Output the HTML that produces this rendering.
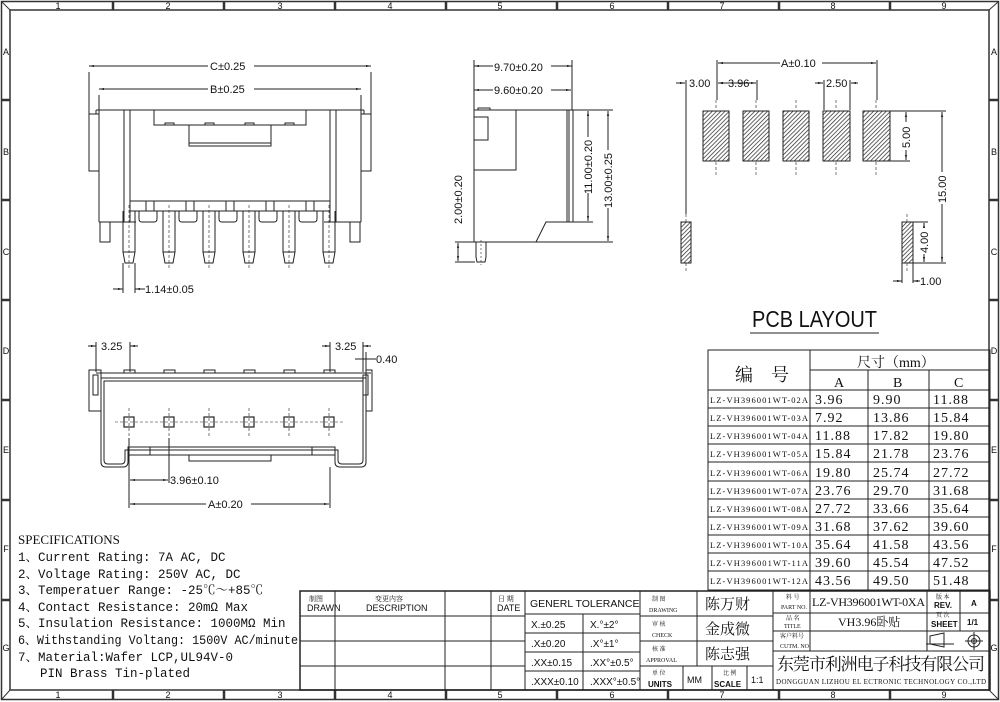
<!DOCTYPE html>
<html><head><meta charset="utf-8"><style>
html,body{margin:0;padding:0;background:#fff;}
svg{display:block;font-family:"Liberation Sans","Noto Sans CJK SC",sans-serif;}
text{fill:#111;}
.s{font-family:"Liberation Serif","Noto Serif CJK SC",serif;}
.m{font-family:"Liberation Mono","Noto Serif CJK SC",monospace;}
</style></head><body>
<svg width="1000" height="702" viewBox="0 0 1000 702" xmlns="http://www.w3.org/2000/svg">
<defs>
<pattern id="h" width="3" height="3" patternUnits="userSpaceOnUse" patternTransform="rotate(45)">
<rect width="3" height="3" fill="#fff"/><line x1="0" y1="0" x2="0" y2="3" stroke="#222" stroke-width="1.4"/></pattern>
<marker id="a" viewBox="0 0 10 10" refX="10" refY="5" markerWidth="5" markerHeight="5" orient="auto-start-reverse"><path d="M0,3 L10,5 L0,7z" fill="#111"/></marker>
</defs>
<g fill="none" stroke="#333" stroke-width="1">
<rect x="1.5" y="1.5" width="997" height="698" stroke-width="1.5"/>
<rect x="10" y="10" width="979" height="680" stroke-width="1.5"/>
<line x1="2" y1="2" x2="10" y2="10"/><line x1="998" y1="2" x2="989" y2="10"/>
<line x1="2" y1="699" x2="10" y2="690"/><line x1="998" y1="699" x2="989" y2="690"/>
<g stroke-width="2.5">
<path d="M113 2v8M224 2v8M335 2v8M446 2v8M557 2v8M668 2v8M779 2v8M890 2v8"/>
<path d="M113 690v9M224 690v9M335 690v9M446 690v9M557 690v9M668 690v9M779 690v9M890 690v9"/>
<path d="M2 100h8M2 200h8M2 300h8M2 400h8M2 500h8M2 600h8"/>
<path d="M989 100h9M989 200h9M989 300h9M989 400h9M989 500h9M989 600h9"/>
</g>
</g>
<g font-size="9" text-anchor="middle">
<text x="58" y="9">1</text><text x="168" y="9">2</text><text x="280" y="9">3</text><text x="390" y="9">4</text><text x="500" y="9">5</text><text x="612" y="9">6</text><text x="722" y="9">7</text><text x="833" y="9">8</text><text x="944" y="9">9</text>
<text x="58" y="698">1</text><text x="168" y="698">2</text><text x="280" y="698">3</text><text x="390" y="698">4</text><text x="500" y="698">5</text><text x="612" y="698">6</text><text x="722" y="698">7</text><text x="833" y="698">8</text><text x="944" y="698">9</text>
<text x="6" y="55">A</text><text x="6" y="155">B</text><text x="6" y="255">C</text><text x="6" y="354">D</text><text x="6" y="453">E</text><text x="6" y="552">F</text><text x="6" y="651">G</text>
<text x="994" y="55">A</text><text x="994" y="155">B</text><text x="994" y="255">C</text><text x="994" y="354">D</text><text x="994" y="453">E</text><text x="994" y="552">F</text><text x="994" y="651">G</text>
</g>

<!-- FRONT VIEW -->
<g fill="none" stroke="#222" stroke-width="1">
<path d="M89 72v43M371 72v43M99 95v16M361 95v16"/>
<line x1="89" y1="66" x2="371" y2="66" marker-start="url(#a)" marker-end="url(#a)"/>
<line x1="99" y1="89" x2="361" y2="89" marker-start="url(#a)" marker-end="url(#a)"/>
<path d="M96 110H364"/>
<rect x="89" y="114" width="10" height="57"/><rect x="361" y="114" width="10" height="57"/>
<path d="M96 110v4h3M364 110v4h-3"/>
<path d="M99 110v112M124 110v112M130 110v112M330 110v112M336 110v112M361 110v112"/>
<path d="M99 222h37M324 222h37"/>
<rect x="100" y="222" width="10" height="20"/><rect x="350" y="222" width="10" height="20"/>
<path d="M154 110v15h152v-15"/><rect x="189" y="125" width="82" height="21"/><path d="M189 143h82"/>
<path d="M165 125v-2h9v2M205 125v-2h9v2M245 125v-2h9v2M285 125v-2h9v2"/>
<path d="M130 201h200M130 211h200"/>
<path d="M146 201v10M154 201v10M186 201v10M194 201v10M226 201v10M234 201v10M266 201v10M274 201v10M306 201v10M314 201v10"/>
<path d="M139 211v8q0 3 3 3h12q3 0 3-3v-8M179 211v8q0 3 3 3h12q3 0 3-3v-8M219 211v8q0 3 3 3h12q3 0 3-3v-8M259 211v8q0 3 3 3h12q3 0 3-3v-8M299 211v8q0 3 3 3h12q3 0 3-3v-8"/>
<g id="pin"><path d="M123 211v41l2 11h8l2-11v-41M123 252h12"/><path d="M129 205v65" stroke-dasharray="3 2" stroke-width="0.6"/></g>
<use href="#pin" x="40"/><use href="#pin" x="80"/><use href="#pin" x="120"/><use href="#pin" x="160"/><use href="#pin" x="200"/>
<path d="M123 263v30M135 263v30"/>
<line x1="113" y1="289" x2="123" y2="289" marker-end="url(#a)"/><line x1="145" y1="289" x2="135" y2="289" marker-end="url(#a)"/>
</g>
<g font-size="11">
<rect x="208" y="59" width="46" height="13" fill="#fff"/><text x="210" y="70">C±0.25</text>
<rect x="208" y="82" width="46" height="13" fill="#fff"/><text x="210" y="93">B±0.25</text>
<text x="145" y="293">1.14±0.05</text>
</g>

<!-- SIDE VIEW -->
<g fill="none" stroke="#222" stroke-width="1">
<path d="M474 60v50M572 60v50"/>
<line x1="474" y1="66" x2="572" y2="66" marker-start="url(#a)" marker-end="url(#a)"/>
<line x1="474" y1="90" x2="571" y2="90" marker-start="url(#a)" marker-end="url(#a)"/>
<path d="M474 110H573V222H546L536 242H474Z"/>
<path d="M567 110v112M569 110v112"/>
<path d="M474 110h42v60h-42M474 117h14v23h-14M478 110v-2h12v2"/>
<path d="M476 242v15l1 5h8l1-5v-15"/><path d="M481 240v25" stroke-dasharray="2 2" stroke-width="0.6"/>
<path d="M573 110h40M573 222h20M455 242h158M455 262h20"/>
<line x1="588" y1="111" x2="588" y2="221" marker-start="url(#a)" marker-end="url(#a)"/>
<line x1="608" y1="111" x2="608" y2="241" marker-start="url(#a)" marker-end="url(#a)"/>
<line x1="458" y1="243" x2="458" y2="261" marker-start="url(#a)" marker-end="url(#a)"/>
</g>
<g font-size="11">
<rect x="493" y="60" width="58" height="13" fill="#fff"/><text x="494" y="71">9.70±0.20</text>
<rect x="493" y="83" width="58" height="13" fill="#fff"/><text x="494" y="94">9.60±0.20</text>
<rect x="581" y="137" width="14" height="56" fill="#fff"/><text transform="translate(592,194) rotate(-90)">11.00±0.20</text>
<rect x="601" y="150" width="14" height="58" fill="#fff"/><text transform="translate(612,208) rotate(-90)">13.00±0.25</text>
<rect x="451" y="168" width="14" height="56" fill="#fff"/><text transform="translate(462,224) rotate(-90)">2.00±0.20</text>
</g>

<!-- PCB LAYOUT -->
<g stroke="#222" stroke-width="1">
<rect x="703" y="111" width="26" height="50" fill="url(#h)"/>
<rect x="743" y="111" width="26" height="50" fill="url(#h)"/>
<rect x="783" y="111" width="26" height="50" fill="url(#h)"/>
<rect x="823" y="111" width="27" height="50" fill="url(#h)"/>
<rect x="863" y="111" width="27" height="50" fill="url(#h)"/>
<rect x="681" y="222" width="10" height="41" fill="url(#h)"/>
<rect x="902" y="222" width="11" height="41" fill="url(#h)"/>
</g>
<g fill="none" stroke="#222" stroke-width="1">
<g stroke-dasharray="3 2" stroke-width="0.6"><path d="M716 100v10M716 162v14M756 100v10M756 162v14M796 100v10M796 162v14M836 100v10M836 162v14M876 100v10M876 162v14M686 214v8M686 263v8M907 214v8M907 263v8"/></g>
<path d="M717 60v40M877 60v40M757 80v20M824 80v30M850 80v30M686 80v134"/>
<line x1="718" y1="63" x2="876" y2="63" marker-start="url(#a)" marker-end="url(#a)"/>
<line x1="676" y1="83" x2="685" y2="83" marker-end="url(#a)"/><line x1="727" y1="83" x2="718" y2="83" marker-end="url(#a)"/>
<line x1="718" y1="83" x2="756" y2="83" marker-start="url(#a)" marker-end="url(#a)"/>
<line x1="815" y1="83" x2="823" y2="83" marker-end="url(#a)"/><line x1="858" y1="83" x2="851" y2="83" marker-end="url(#a)"/>
<path d="M890 111h56M890 161h20M913 222h15M913 263h33M902 263v20M913 263v20"/>
<line x1="906" y1="112" x2="906" y2="160" marker-start="url(#a)" marker-end="url(#a)"/>
<line x1="942" y1="112" x2="942" y2="262" marker-start="url(#a)" marker-end="url(#a)"/>
<line x1="924" y1="223" x2="924" y2="262" marker-start="url(#a)" marker-end="url(#a)"/>
<line x1="893" y1="281" x2="902" y2="281" marker-end="url(#a)"/><line x1="920" y1="281" x2="913" y2="281" marker-end="url(#a)"/>
</g>
<g font-size="11">
<rect x="780" y="57" width="42" height="13" fill="#fff"/><text x="781" y="67">A±0.10</text>
<text x="689" y="87">3.00</text><text x="728" y="87">3.96</text>
<rect x="825" y="77" width="24" height="12" fill="#fff"/><text x="826" y="87">2.50</text>
<rect x="900" y="122" width="12" height="28" fill="#fff"/><text transform="translate(910,148) rotate(-90)">5.00</text>
<rect x="936" y="172" width="12" height="32" fill="#fff"/><text transform="translate(946,203) rotate(-90)">15.00</text>
<rect x="918" y="228" width="12" height="26" fill="#fff"/><text transform="translate(928,253) rotate(-90)">4.00</text>
<text x="920" y="285">1.00</text>
</g>
<text x="752" y="327" font-size="23" textLength="125" lengthAdjust="spacingAndGlyphs">PCB LAYOUT</text>
<line x1="750" y1="333" x2="879" y2="333" stroke="#222" stroke-width="1"/>

<!-- BOTTOM VIEW -->
<g fill="none" stroke="#222" stroke-width="1">
<path d="M96 342v30M130 342v30M330 342v30M363 342v30M366 352v20"/>
<line x1="88" y1="346" x2="96" y2="346" marker-end="url(#a)"/><line x1="138" y1="346" x2="130" y2="346" marker-end="url(#a)"/>
<line x1="322" y1="346" x2="330" y2="346" marker-end="url(#a)"/><line x1="371" y1="346" x2="363" y2="346" marker-end="url(#a)"/>
<path d="M355 359h21"/>
<path d="M96 373H371"/>
<path d="M89 370h12v41h-12zM366 370h6v41h-6z"/>
<rect x="93" y="375" width="5" height="20"/><rect x="363" y="375" width="5" height="20"/>
<path d="M124 373v-3h11v3M164 373v-3h11v3M204 373v-3h11v3M244 373v-3h11v3M284 373v-3h11v3M324 373v-3h11v3"/>
<path d="M101 378H366V462q0 5-5 5H340q-5 0-5-5V447H128V462q0 5-5 5H106q-5 0-5-5Z"/>
<path d="M104 381H363V460q0 4-4 4H342q-4 0-4-4V450H125V460q0 4-4 4H108q-4 0-4-4Z"/>
<path d="M128 455h207M150 447v8M312 447v8"/><rect x="189" y="455" width="82" height="6"/>
<g stroke-dasharray="3 2" stroke-width="0.6"><path d="M115 422h230M129 408v30M169 408v30M209 408v30M249 408v30M289 408v30M329 408v30"/></g>
<g stroke-width="1.2">
<rect x="124" y="417" width="10" height="10"/><rect x="164" y="417" width="10" height="10"/><rect x="204" y="417" width="10" height="10"/><rect x="244" y="417" width="10" height="10"/><rect x="284" y="417" width="10" height="10"/><rect x="324" y="417" width="10" height="10"/>
</g>
<path d="M129 438v70M169 438v45M330 467v41"/>
<line x1="130" y1="480" x2="168" y2="480" marker-start="url(#a)" marker-end="url(#a)"/>
<line x1="130" y1="504" x2="329" y2="504" marker-start="url(#a)" marker-end="url(#a)"/>
</g>
<g font-size="11">
<text x="101" y="350">3.25</text><text x="335" y="350">3.25</text><text x="376" y="363">0.40</text>
<text x="170" y="484">3.96±0.10</text>
<rect x="206" y="497" width="45" height="13" fill="#fff"/><text x="208" y="508">A±0.20</text>
</g>

<!-- SPECIFICATIONS -->
<g class="m" font-size="12.5">
<text x="18" y="544" class="s" font-size="13">SPECIFICATIONS</text>
<text x="18" y="561">1、Current Rating: 7A AC, DC</text>
<text x="18" y="578">2、Voltage Rating: 250V AC, DC</text>
<text x="18" y="594">3、Temperatuer Range: -25℃～+85℃</text>
<text x="18" y="611">4、Contact Resistance: 20mΩ Max</text>
<text x="18" y="627">5、Insulation Resistance: 1000MΩ Min</text>
<text x="18" y="644" textLength="280" lengthAdjust="spacingAndGlyphs">6、Withstanding Voltang: 1500V AC/minute</text>
<text x="18" y="661">7、Material:Wafer LCP,UL94V-0</text>
<text x="40" y="677">PIN Brass Tin-plated</text>
</g>

<!-- TABLE -->
<g fill="none" stroke="#222" stroke-width="1">
<rect x="708" y="350" width="282" height="240"/>
<path d="M810 350v240M810 370h180M708 390h282M868 370v220M929 370v220"/>
<path d="M708 408h282M708 426h282M708 444h282M708 462h282M708 481h282M708 499h282M708 517h282M708 535h282M708 553h282M708 571h282"/>
</g>
<g class="s">
<text x="735" y="381" font-size="18">编　号</text>
<text x="857" y="367" font-size="14">尺寸（mm）</text>
<text x="834" y="387" font-size="14">A</text><text x="893" y="387" font-size="14">B</text><text x="954" y="387" font-size="14">C</text>
<g font-size="8.5">
<text x="710" y="403" textLength="98">LZ-VH396001WT-02A</text>
<text x="710" y="421" textLength="98">LZ-VH396001WT-03A</text>
<text x="710" y="439" textLength="98">LZ-VH396001WT-04A</text>
<text x="710" y="457" textLength="98">LZ-VH396001WT-05A</text>
<text x="710" y="476" textLength="98">LZ-VH396001WT-06A</text>
<text x="710" y="494" textLength="98">LZ-VH396001WT-07A</text>
<text x="710" y="512" textLength="98">LZ-VH396001WT-08A</text>
<text x="710" y="530" textLength="98">LZ-VH396001WT-09A</text>
<text x="710" y="548" textLength="98">LZ-VH396001WT-10A</text>
<text x="710" y="566" textLength="98">LZ-VH396001WT-11A</text>
<text x="710" y="584" textLength="98">LZ-VH396001WT-12A</text>
</g>
<g font-size="14" letter-spacing="1">
<text x="815" y="404">3.96</text><text x="873" y="404">9.90</text><text x="933" y="404">11.88</text>
<text x="815" y="422">7.92</text><text x="873" y="422">13.86</text><text x="933" y="422">15.84</text>
<text x="815" y="440">11.88</text><text x="873" y="440">17.82</text><text x="933" y="440">19.80</text>
<text x="815" y="458">15.84</text><text x="873" y="458">21.78</text><text x="933" y="458">23.76</text>
<text x="815" y="477">19.80</text><text x="873" y="477">25.74</text><text x="933" y="477">27.72</text>
<text x="815" y="495">23.76</text><text x="873" y="495">29.70</text><text x="933" y="495">31.68</text>
<text x="815" y="513">27.72</text><text x="873" y="513">33.66</text><text x="933" y="513">35.64</text>
<text x="815" y="531">31.68</text><text x="873" y="531">37.62</text><text x="933" y="531">39.60</text>
<text x="815" y="549">35.64</text><text x="873" y="549">41.58</text><text x="933" y="549">43.56</text>
<text x="815" y="567">39.60</text><text x="873" y="567">45.54</text><text x="933" y="567">47.52</text>
<text x="815" y="585">43.56</text><text x="873" y="585">49.50</text><text x="933" y="585">51.48</text>
</g>
</g>

<!-- TITLE BLOCK -->
<g fill="none" stroke="#222" stroke-width="1">
<rect x="300" y="591" width="690" height="99" stroke-width="1.5"/>
<path d="M300 616h225M300 641h225M300 666h225"/>
<path d="M335 591v99M445 591v99M491 591v99M525 591v99"/>
<path d="M525 614h115M525 633h115M525 652h115M525 671h115M583 614v76M640 591v99"/>
<path d="M640 616h133M640 641h133M640 666h133M697 591v75M683 666v24M712 666v24M747 666v24M773 591v99"/>
<path d="M773 613h217M773 631h217M773 651h217M810 591v60M927 591v60M960 591v40"/>
<path d="M926 644h28M930 636l14-3v14l-14-3z"/>
<circle cx="974" cy="641" r="6"/><circle cx="974" cy="641" r="2.5"/><path d="M965 641h18M974 632v18"/>
</g>
<g class="s">
<text x="309" y="601" font-size="7">制图</text><text x="307" y="611" font-size="9" font-family="Liberation Sans">DRAWN</text>
<text x="375" y="601" font-size="7">变更内容</text><text x="366" y="611" font-size="9" font-family="Liberation Sans">DESCRIPTION</text>
<text x="498" y="601" font-size="7">日 期</text><text x="497" y="611" font-size="9" font-family="Liberation Sans">DATE</text>
<text x="530" y="607" font-size="10.5" font-family="Liberation Sans">GENERL TOLERANCE</text>
<g font-family="Liberation Sans" font-size="10">
<text x="531" y="628">X.±0.25</text><text x="590" y="628">X.°±2°</text>
<text x="531" y="647">.X±0.20</text><text x="590" y="647">.X°±1°</text>
<text x="531" y="666">.XX±0.15</text><text x="590" y="666">.XX°±0.5°</text>
<text x="531" y="685">.XXX±0.10</text><text x="590" y="685">.XXX°±0.5°</text>
</g>
<g font-size="6">
<text x="652" y="601">制 图</text><text x="649" y="612">DRAWING</text>
<text x="652" y="626">审 核</text><text x="652" y="637">CHECK</text>
<text x="652" y="651">核 准</text><text x="646" y="662">APPROVAL</text>
<text x="652" y="675">单 位</text>
<text x="786" y="599">料 号</text><text x="781" y="609">PART NO.</text>
<text x="786" y="620">品 名</text><text x="784" y="628">TITLE</text>
<text x="780" y="638">客户料号</text><text x="780" y="648">CUTM. NO.</text>
<text x="936" y="599">版 本</text><text x="936" y="617">页 次</text>
<text x="723" y="675">比 例</text>
</g>
<text x="648" y="687" font-size="8" font-family="Liberation Sans" font-weight="bold">UNITS</text>
<text x="714" y="687" font-size="8" font-family="Liberation Sans" font-weight="bold">SCALE</text>
<text x="687" y="683" font-size="9" font-family="Liberation Sans">MM</text>
<text x="751" y="683" font-size="9" font-family="Liberation Sans">1:1</text>
<text x="705" y="609" font-size="15">陈万财</text>
<text x="705" y="634" font-size="15">金成微</text>
<text x="705" y="659" font-size="15">陈志强</text>
<text x="812" y="606" font-size="12" textLength="113">LZ-VH396001WT-0XA</text>
<text x="838" y="626" font-size="12">VH3.96卧贴</text>
<text x="934" y="608" font-size="8" font-family="Liberation Sans" font-weight="bold">REV.</text>
<text x="971" y="606" font-size="8" font-family="Liberation Sans" font-weight="bold">A</text>
<text x="931" y="627" font-size="8" font-family="Liberation Sans" font-weight="bold">SHEET</text>
<text x="967" y="625" font-size="8" font-family="Liberation Sans" font-weight="bold">1/1</text>
<text x="777" y="670" font-size="17" textLength="208">东莞市利洲电子科技有限公司</text>
<text x="776" y="684" font-size="7" textLength="210">DONGGUAN LIZHOU EL ECTRONIC TECHNOLOGY CO.,LTD</text>
</g>
</svg>
</body></html>
